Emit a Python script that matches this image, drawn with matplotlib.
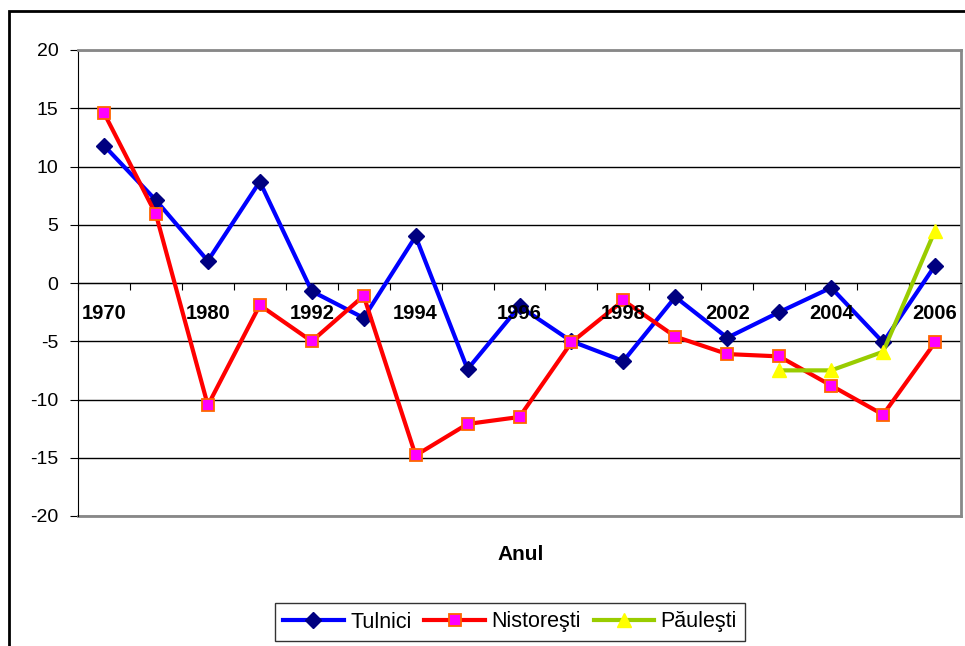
import matplotlib.pyplot as plt
from matplotlib.patches import Rectangle
import numpy as np

# categorii (doar fiecare a doua eticheta e afisata)
ani = ['1970', '1975', '1980', '1990', '1992', '1993', '1994', '1995', '1996',
       '1997', '1998', '2001', '2002', '2003', '2004', '2005', '2006']
etichete = ['1970', '', '1980', '', '1992', '', '1994', '', '1996',
            '', '1998', '', '2002', '', '2004', '', '2006']

tulnici = [11.8, 7.1, 1.9, 8.7, -0.7, -3.0, 4.0, -7.4, -2.0,
           -5.0, -6.7, -1.2, -4.7, -2.5, -0.4, -5.1, 1.5]
nistoresti = [14.6, 5.9, -10.5, -1.9, -5.0, -1.1, -14.8, -12.1, -11.5,
              -5.1, -1.5, -4.6, -6.1, -6.3, -8.8, -11.3, -5.1]
paulesti = [None] * 13 + [-7.5, -7.5, -5.9, 4.5]

plt.rcParams['font.family'] = ['Arial', 'Liberation Sans', 'DejaVu Sans']
plt.rcParams['axes.unicode_minus'] = False

fig = plt.figure(figsize=(9.65, 6.46), dpi=100)
ax = fig.add_axes([78 / 965, 1 - 516 / 646, 883 / 965, 466 / 646])

x = np.arange(len(ani))
p = np.array([np.nan if v is None else v for v in paulesti], dtype=float)

ax.plot(x, tulnici, color='#0000FF', lw=3, marker='D', ms=8,
        mfc='#000080', mec='#000080', label='Tulnici', zorder=3)
ax.plot(x, nistoresti, color='#FF0000', lw=3, marker='s', ms=8,
        mfc='#FF00FF', mec='#FF6600', mew=1.3, label='Nistoreşti', zorder=3)
ax.plot(x, p, color='#99CC00', lw=3, marker='^', ms=10,
        mfc='#FFFF00', mec='#FFFF00', label='Păuleşti', zorder=4)

ax.set_xlim(-0.5, len(ani) - 0.5)
ax.set_ylim(-20, 20)
ax.set_yticks(range(-20, 21, 5))
ax.yaxis.grid(True, color='black', lw=1)
ax.set_axisbelow(True)
ax.tick_params(axis='y', labelsize=14, length=6, pad=8, direction='out')

# axa x trece prin 0
ax.spines['bottom'].set_position(('data', 0))
ax.spines['bottom'].set_color('black')
ax.set_xticks(np.arange(len(ani) + 1) - 0.5)
ax.set_xticklabels([])
ax.tick_params(axis='x', length=5, direction='out')
for i, t in enumerate(etichete):
    if t:
        ax.text(i, -2.6, t, ha='center', va='center', fontsize=14.5,
                fontweight='bold')

for s in ['top', 'right']:
    ax.spines[s].set_color('#888888')
    ax.spines[s].set_linewidth(2)
ax.spines['left'].set_color('black')
ax.plot([-0.5, len(ani) - 0.5], [-20, -20], color='#888888', lw=2,
        clip_on=False, zorder=1)

fig.text(521 / 965, 1 - 555 / 646, 'Anul', ha='center', va='center',
         fontsize=15, fontweight='bold')

leg = fig.legend(loc='center', bbox_to_anchor=(510 / 965, 1 - 622 / 646),
                 ncol=3, fontsize=15.5, frameon=True, fancybox=False,
                 edgecolor='black', handlelength=2.8, columnspacing=0.6,
                 handletextpad=0.3, borderpad=0.4)
leg.get_frame().set_linewidth(1)

# chenarul exterior
fig.patches.append(Rectangle((9 / 965, -0.1), 1.1, 1 - 11 / 646 + 0.1,
                             transform=fig.transFigure, fill=False,
                             edgecolor='black', lw=2))

fig.savefig('out.png', dpi=100)
